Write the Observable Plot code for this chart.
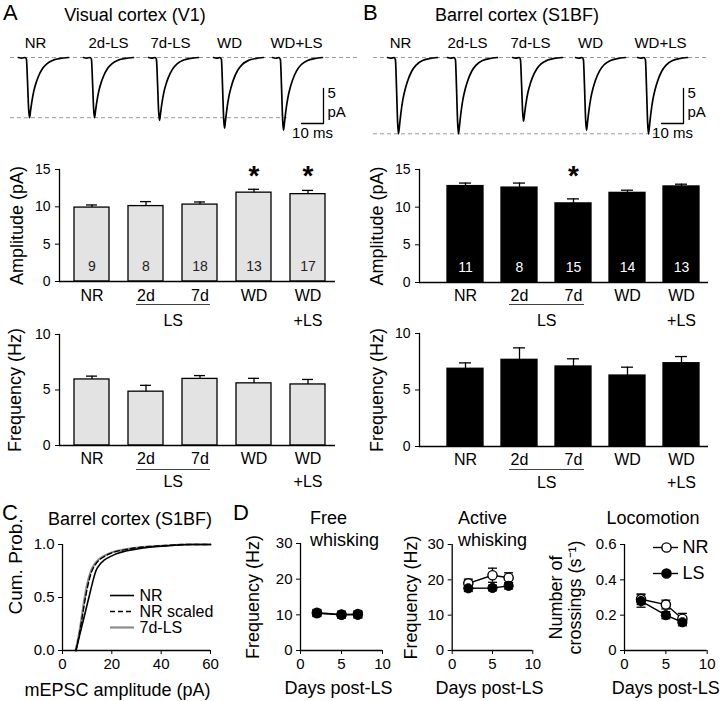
<!DOCTYPE html>
<html><head><meta charset="utf-8">
<script src="https://cdn.jsdelivr.net/npm/d3@7"></script>
<script src="https://cdn.jsdelivr.net/npm/@observablehq/plot@0.6"></script>
<style>
body{margin:0;background:#fff;}
#fig{position:relative;width:720px;height:701px;overflow:hidden;background:#fff;font-family:"Liberation Sans",Arial,Helvetica,sans-serif;color:#000;}
.abs{position:absolute;}
.lbl{position:absolute;white-space:nowrap;line-height:1;}
svg{overflow:visible;}
</style></head><body><div id="fig"></div>
<script>
// ---------------- DATA ----------------
const conditions = ["NR", "2d-LS", "7d-LS", "WD", "WD+LS"];
const tickTop = ["NR", "2d", "7d", "WD", "WD"];
const tickBottom = ["", "", "", "", "+LS"];

// example mEPSC waveform (time from trace start in ms, fraction of peak)
const traceShapeTime = [0, 1.5, 3.0, 3.6, 4.1, 4.6, 5.0, 5.5, 6.0, 7.0, 8.0, 9.0, 11.0, 13.0, 16.0, 19.0, 22.7];
const traceShapeFrac = [0, 0.01, 0, 0.03, 0.4, 0.85, 1.0, 0.88, 0.75, 0.55, 0.42, 0.32, 0.18, 0.1, 0.04, 0.015, 0];
const tracePeakV1 = [8.6, 8.6, 9.0, 10.1, 10.4];     // pA
const tracePeakS1 = [10.9, 10.9, 9.1, 10.4, 10.9];   // pA
const scaleBar = {ms: 10, pA: 5};

// A: visual cortex (V1)
const v1AmpMean = [9.9, 10.1, 10.3, 11.9, 11.7];
const v1AmpSem = [0.35, 0.6, 0.35, 0.45, 0.5];
const v1N = [9, 8, 18, 13, 17];
const v1Stars = ["WD", "WD+LS"];
const v1FreqMean = [5.95, 4.85, 6.0, 5.6, 5.5];
const v1FreqSem = [0.3, 0.57, 0.3, 0.45, 0.45];

// B: barrel cortex (S1BF)
const s1AmpMean = [12.8, 12.6, 10.5, 11.9, 12.75];
const s1AmpSem = [0.4, 0.6, 0.6, 0.35, 0.3];
const s1N = [11, 8, 15, 14, 13];
const s1Stars = ["7d-LS"];
const s1FreqMean = [6.88, 7.67, 7.08, 6.28, 7.37];
const s1FreqSem = [0.52, 1.06, 0.68, 0.74, 0.59];

// C: cumulative distributions of mEPSC amplitude
const cdfProb = [0, 0.14, 0.30, 0.50, 0.775, 0.90, 0.96, 0.99, 1, 1];
const cdfAmpNR = [5.5, 6.9, 8.6, 10.7, 14.0, 20.6, 30.8, 44.0, 52, 60];
const cdfAmpNRscaled = [5.4, 6.7, 7.9, 9.3, 12.4, 18.0, 27.5, 42.0, 50, 60];
const cdfAmp7dLS = [5.3, 6.6, 7.7, 9.0, 12.0, 17.4, 26.7, 41.7, 50, 60];
const cdfLegend = ["NR", "NR scaled", "7d-LS"];

// D: behaviour
const days = [2, 5, 7];
const freeNR = [10.6, 10.1, 10.2], freeNRsem = [0.9, 0.9, 0.9];
const freeLS = [10.4, 10.0, 10.0], freeLSsem = [0.9, 0.9, 0.9];
const activeNR = [19.0, 21.3, 20.6], activeNRsem = [1.2, 2.0, 1.4];
const activeLS = [17.6, 17.7, 18.3], activeLSsem = [0.9, 0.8, 0.9];
const locoNR = [0.29, 0.26, 0.18], locoNRsem = [0.03, 0.025, 0.03];
const locoLS = [0.28, 0.20, 0.16], locoLSsem = [0.035, 0.02, 0.02];
const groupLegend = ["NR", "LS"];

// ---------------- LAYOUT / HELPERS ----------------
const FONT = '"Liberation Sans", Arial, Helvetica, sans-serif';
const fig = document.getElementById("fig");
const baseStyle = {fontFamily: FONT, fontSize: "14px", color: "#000", background: "transparent", overflow: "visible"};
const MID = {textAnchor: "middle", lineAnchor: "middle"};
function put(node, left, top) {
  const d = document.createElement("div");
  d.className = "abs"; d.style.left = left + "px"; d.style.top = top + "px";
  d.appendChild(node); fig.appendChild(d);
}
function label(text, x, y, size, align = "center") {
  const d = document.createElement("div");
  d.className = "lbl"; d.textContent = text; d.style.fontSize = size + "px";
  d.style.left = x + "px"; d.style.top = y + "px";
  const tx = align === "center" ? "-50%" : align === "left" ? "0" : "-100%";
  d.style.transform = `translate(${tx},-50%)`;
  fig.appendChild(d);
}

// ---------------- TRACES ----------------
const PX_PER_MS = 2.2, PX_PER_PA = 7, BASE_Y = 57, TRACE_H = 140;
function tracePanel(o) {
  const startMs = o.startsPx.map(p => p / PX_PER_MS);
  const pts = [];
  conditions.forEach((c, i) => traceShapeTime.forEach((t, k) =>
    pts.push({c, t: startMs[i] + t, v: -o.peaks[i] * traceShapeFrac[k]})));
  const labs = conditions.map((c, i) => ({c, x: o.labelPx[i] / PX_PER_MS}));
  const cx = o.barX / PX_PER_MS, cy = -(o.barBottom - BASE_Y) / PX_PER_PA;
  const bar = [[cx, cy + scaleBar.pA], [cx, cy], [cx - scaleBar.ms, cy]];
  const p = Plot.plot({
    width: 360, height: TRACE_H, margin: 0,
    style: baseStyle,
    x: {domain: [0, 360 / PX_PER_MS], axis: null},
    y: {domain: [-(TRACE_H - BASE_Y) / PX_PER_PA, BASE_Y / PX_PER_PA], axis: null},
    marks: [
      Plot.ruleY([0], {x1: o.dashFrom / PX_PER_MS, x2: o.dashTo / PX_PER_MS, stroke: "#9a9a9a", strokeDasharray: "4,3", strokeWidth: 1}),
      Plot.ruleY([-o.peaks[0]], {x1: o.dashFrom / PX_PER_MS, x2: o.dashTo2 / PX_PER_MS, stroke: "#9a9a9a", strokeDasharray: "4,3", strokeWidth: 1}),
      Plot.line(pts, {x: "t", y: "v", z: "c", curve: "monotone-x", stroke: "#000", strokeWidth: 1.7}),
      Plot.text(labs, {x: "x", y: (BASE_Y - 43) / PX_PER_PA, text: "c", fontSize: 15}),
      Plot.line(bar, {x: d => d[0], y: d => d[1], stroke: "#000", strokeWidth: 1.3}),
      Plot.text([scaleBar.pA + ""], {x: cx, y: cy + scaleBar.pA, text: d => d, textAnchor: "start", dx: 4, dy: 5, fontSize: 15}),
      Plot.text(["pA"], {x: cx, y: cy, text: d => d, textAnchor: "start", dx: 4, dy: -11, fontSize: 15}),
      Plot.text([scaleBar.ms + " ms"], {x: cx - scaleBar.ms / 2, y: cy, text: d => d, dy: 10, fontSize: 15})
    ]
  });
  put(p, o.left, 0);
}
tracePanel({left: 0, startsPx: [18, 83, 148, 213, 272], peaks: tracePeakV1, labelPx: [35, 108, 170, 229, 296],
  dashFrom: 10, dashTo: 358, dashTo2: 290, barX: 323, barBottom: 123});
tracePanel({left: 360, startsPx: [27, 87, 152, 215, 277], peaks: tracePeakS1, labelPx: [40, 107, 170, 230, 300],
  dashFrom: 13, dashTo: 348, dashTo2: 300, barX: 323, barBottom: 123});

// ---------------- BAR PANELS ----------------
function barPanel(o) {
  const data = conditions.map((c, i) => ({c, m: o.mean[i], s: o.sem[i], n: o.n ? String(o.n[i]) : "",
    star: (o.stars || []).includes(c), top: tickTop[i], bot: tickBottom[i]}));
  const step = (o.frameR - o.frameL) / (conditions.length - o.pad[0] + 2 * o.pad[1]);
  const p = Plot.plot({
    width: o.w, height: o.h,
    marginLeft: o.frameL - o.left, marginRight: o.left + o.w - o.frameR,
    marginTop: o.frameT - o.top, marginBottom: o.top + o.h - o.frameB,
    style: baseStyle,
    x: {domain: conditions, paddingInner: o.pad[0], paddingOuter: o.pad[1], align: o.pad[2], axis: null},
    y: {domain: [0, o.yMax]},
    marks: [
      Plot.barY(data, {x: "c", y: "m", fill: o.fill, stroke: "#000", strokeWidth: 1.3}),
      Plot.ruleX(data, {x: "c", y1: "m", y2: d => d.m + d.s, stroke: "#000", strokeWidth: 1.3}),
      Plot.tickY(data, {x: "c", y: d => d.m + d.s, insetLeft: 12, insetRight: 12, stroke: "#000", strokeWidth: 1.3}),
      Plot.text(data, {x: "c", y: 0, text: "n", dy: -15, fill: o.nColor, fontSize: 14}),
      Plot.text(data.filter(d => d.star), {x: "c", text: () => "*", frameAnchor: "top", ...MID, dy: 7, fontSize: 28, fontWeight: "bold"}),
      Plot.axisY({ticks: o.yTicks, tickSize: 4, tickPadding: 5, fontSize: 14, label: null}),
      Plot.frame({anchor: "left", stroke: "#000", strokeWidth: 1.3}),
      Plot.ruleY([0], {stroke: "#000", strokeWidth: 1.3}),
      Plot.text(data, {x: "c", text: "top", frameAnchor: "bottom", ...MID, dy: o.row1, fontSize: 16}),
      Plot.text(data, {x: "c", text: "bot", frameAnchor: "bottom", ...MID, dy: o.row2, fontSize: 16}),
      Plot.text(["LS"], {x: () => "2d-LS", text: d => d, frameAnchor: "bottom", ...MID, dx: step / 2, dy: o.row2, fontSize: 16}),
      Plot.ruleY([0], {x1: () => "2d-LS", x2: () => "7d-LS", insetLeft: 8, insetRight: 7, dy: o.line, stroke: "#444", strokeWidth: 1}),
      Plot.text([o.ylabel], {text: d => d, frameAnchor: "left", ...MID, rotate: -90, dx: o.ylabelX - o.frameL, fontSize: 18})
    ]
  });
  put(p, o.left, o.top);
}
const padA = [0.358, 0.211, 0.61], padB = [0.339, 0.321, 0.743];
barPanel({left: 0, top: 140, w: 360, h: 200, frameL: 59, frameR: 335, frameT: 169, frameB: 281,
  yMax: 15, yTicks: [0, 5, 10, 15], mean: v1AmpMean, sem: v1AmpSem, n: v1N, stars: v1Stars,
  fill: "#e3e3e3", nColor: "#222", pad: padA, row1: 14, row2: 39, line: 23, ylabel: "Amplitude (pA)", ylabelX: 17});
barPanel({left: 0, top: 310, w: 360, h: 200, frameL: 59, frameR: 335, frameT: 334, frameB: 445,
  yMax: 10, yTicks: [0, 5, 10], mean: v1FreqMean, sem: v1FreqSem,
  fill: "#e3e3e3", nColor: "#222", pad: padA, row1: 13, row2: 36, line: 24, ylabel: "Frequency (Hz)", ylabelX: 15});
barPanel({left: 360, top: 140, w: 360, h: 200, frameL: 419, frameR: 708, frameT: 169, frameB: 282,
  yMax: 15, yTicks: [0, 5, 10, 15], mean: s1AmpMean, sem: s1AmpSem, n: s1N, stars: s1Stars,
  fill: "#000", nColor: "#fff", pad: padB, row1: 13, row2: 38, line: 22, ylabel: "Amplitude (pA)", ylabelX: 377});
barPanel({left: 360, top: 310, w: 360, h: 200, frameL: 419, frameR: 708, frameT: 333, frameB: 446,
  yMax: 10, yTicks: [0, 5, 10], mean: s1FreqMean, sem: s1FreqSem,
  fill: "#000", nColor: "#fff", pad: padB, row1: 13, row2: 36, line: 23, ylabel: "Frequency (Hz)", ylabelX: 377});

// ---------------- C: CDF ----------------
(function () {
  const L = 0, T = 505, W = 230, H = 196, fL = 62, fR = 210, fT = 544, fB = 650;
  const mk = (amps, g) => amps.map((a, i) => ({a, p: cdfProb[i], g}));
  const pxToAmp = px => (px - fL) / (fR - fL) * 60;
  const pxToP = py => (fB - py) / (fB - fT);
  const legRows = cdfLegend.map((g, i) => ({g, y: pxToP([595, 611, 627][i])}));
  const styles = {"NR": {stroke: "#000", dash: null}, "NR scaled": {stroke: "#000", dash: "5,3"}, "7d-LS": {stroke: "#8c8c8c", dash: null}};
  const p = Plot.plot({
    width: W, height: H, marginLeft: fL - L, marginRight: L + W - fR, marginTop: fT - T, marginBottom: T + H - fB,
    style: baseStyle,
    x: {domain: [0, 60]}, y: {domain: [0, 1]},
    marks: [
      Plot.line(mk(cdfAmp7dLS, "7d-LS"), {x: "a", y: "p", curve: "monotone-x", stroke: "#8c8c8c", strokeWidth: 2.2}),
      Plot.line(mk(cdfAmpNRscaled, "NR scaled"), {x: "a", y: "p", curve: "monotone-x", stroke: "#000", strokeWidth: 1.4, strokeDasharray: "5,3"}),
      Plot.line(mk(cdfAmpNR, "NR"), {x: "a", y: "p", curve: "monotone-x", stroke: "#000", strokeWidth: 1.6}),
      ...legRows.map(r => Plot.ruleY([r.y], {x1: pxToAmp(110), x2: pxToAmp(134), stroke: styles[r.g].stroke,
        strokeDasharray: styles[r.g].dash, strokeWidth: r.g === "7d-LS" ? 2.2 : 1.6})),
      Plot.text(legRows, {x: pxToAmp(139), y: "y", text: "g", textAnchor: "start", fontSize: 16}),
      Plot.axisY({ticks: [0, 0.5, 1], tickFormat: d => d.toFixed(1), tickSize: 4, tickPadding: 4, fontSize: 15, label: null}),
      Plot.axisX({ticks: [0, 20, 40, 60], tickSize: 4, tickPadding: 4, fontSize: 15, label: null}),
      Plot.ruleX([0], {stroke: "#000", strokeWidth: 1.3}),
      Plot.ruleY([0], {stroke: "#000", strokeWidth: 1.3}),
      Plot.text(["Cum. Prob."], {text: d => d, frameAnchor: "left", ...MID, rotate: -90, dx: 15 - fL, dy: -31, fontSize: 19}),
      Plot.text(["mEPSC amplitude (pA)"], {text: d => d, frameAnchor: "bottom", ...MID, dx: -19, dy: 40, fontSize: 18})
    ]
  });
  put(p, L, T);
})();

// ---------------- D: behaviour ----------------
const capSymbol = {draw(ctx, size) { const w = Math.sqrt(size / Math.PI); ctx.moveTo(-w, 0); ctx.lineTo(w, 0); }};
function dPanel(o) {
  const nr = days.map((d, i) => ({day: d, m: o.nr[i], s: o.nrS[i]}));
  const ls = days.map((d, i) => ({day: d, m: o.ls[i], s: o.lsS[i]}));
  const all = [...nr, ...ls];
  const extra = o.legend ? o.legend() : [];
  const p = Plot.plot({
    width: o.w, height: o.h, marginLeft: o.fL - o.left, marginRight: o.left + o.w - o.fR,
    marginTop: o.fT - o.top, marginBottom: o.top + o.h - o.fB,
    style: baseStyle,
    x: {domain: [0, 10]}, y: {domain: [0, o.yMax]},
    marks: [
      Plot.ruleX(all, {x: "day", y1: d => d.m - d.s, y2: d => d.m + d.s, stroke: "#000", strokeWidth: 1.3}),
      Plot.dot(all, {x: "day", y: d => d.m + d.s, symbol: capSymbol, r: 4.5, fill: "none", stroke: "#000", strokeWidth: 1.3}),
      Plot.dot(all, {x: "day", y: d => d.m - d.s, symbol: capSymbol, r: 4.5, fill: "none", stroke: "#000", strokeWidth: 1.3}),
      Plot.line(nr, {x: "day", y: "m", stroke: "#000", strokeWidth: 1.4}),
      Plot.line(ls, {x: "day", y: "m", stroke: "#000", strokeWidth: 1.4}),
      Plot.dot(nr, {x: "day", y: "m", r: 4.6, fill: "#fff", stroke: "#000", strokeWidth: 1.4}),
      Plot.dot(ls, {x: "day", y: "m", r: 4.6, fill: "#000", stroke: "#000", strokeWidth: 1}),
      ...extra,
      Plot.axisY({ticks: o.yTicks, tickFormat: o.fmt, tickSize: 4, tickPadding: 4, fontSize: 15, label: null}),
      Plot.axisX({ticks: [0, 5, 10], tickSize: 4, tickPadding: 4, fontSize: 15, label: null}),
      Plot.ruleX([0], {stroke: "#000", strokeWidth: 1.3}),
      Plot.ruleY([0], {stroke: "#000", strokeWidth: 1.3}),
      Plot.text([o.ylabel], {text: d => d, frameAnchor: "left", ...MID, rotate: -90, dx: o.ylabelX - o.fL, fontSize: 18, lineHeight: 1.05}),
      Plot.text(["Days post-LS"], {text: d => d, frameAnchor: "bottom", ...MID, dx: o.xlabDx, dy: 38, fontSize: 18})
    ]
  });
  put(p, o.left, o.top);
}
dPanel({left: 230, top: 505, w: 160, h: 196, fL: 300, fR: 382, fT: 543, fB: 650, yMax: 30, yTicks: [0, 10, 20, 30],
  nr: freeNR, nrS: freeNRsem, ls: freeLS, lsS: freeLSsem, ylabel: "Frequency (Hz)", ylabelX: 252, xlabDx: -3});
dPanel({left: 390, top: 505, w: 150, h: 196, fL: 451.7, fR: 532.3, fT: 544, fB: 650, yMax: 30, yTicks: [0, 10, 20, 30],
  nr: activeNR, nrS: activeNRsem, ls: activeLS, lsS: activeLSsem, ylabel: "Frequency (Hz)", ylabelX: 410, xlabDx: -3});
dPanel({left: 540, top: 505, w: 180, h: 196, fL: 624, fR: 706.7, fT: 544, fB: 650, yMax: 0.6, yTicks: [0, 0.2, 0.4, 0.6],
  fmt: d => d === 0 ? "0" : d.toFixed(1),
  nr: locoNR, nrS: locoNRsem, ls: locoLS, lsS: locoLSsem, ylabel: "Number of\ncrossings (s\u207B\u00B9)", ylabelX: 565, xlabDx: 0,
  legend: () => {
    const dayPx = px => (px - 624) / (706.7 - 624) * 10;
    const yPx = py => (650 - py) / (650 - 544) * 0.6;
    const rows = groupLegend.map((g, i) => ({g, y: yPx([547, 573][i]), fill: i === 0 ? "#fff" : "#000"}));
    return [
      Plot.ruleY(rows, {y: "y", x1: dayPx(653), x2: dayPx(678), stroke: "#000", strokeWidth: 1.4}),
      Plot.dot(rows, {x: dayPx(666), y: "y", r: 4.6, fill: "fill", stroke: "#000", strokeWidth: 1.4}),
      Plot.text(rows, {x: dayPx(682), y: "y", text: "g", textAnchor: "start", fontSize: 18})
    ];
  }});

// ---------------- TITLES / LETTERS ----------------
label("A", 3, 13, 22, "left");
label("B", 363, 13, 22, "left");
label("C", 2, 513, 22, "left");
label("D", 233, 513, 22, "left");
label("Visual cortex (V1)", 135, 15, 18);
label("Barrel cortex (S1BF)", 517, 15, 18);
label("Barrel cortex (S1BF)", 130, 519, 18);
label("Free", 310, 518, 18, "left");
label("whisking", 310, 540, 18, "left");
label("Active", 458, 518, 18, "left");
label("whisking", 458, 540, 18, "left");
label("Locomotion", 653, 518, 18);
</script></body></html>
